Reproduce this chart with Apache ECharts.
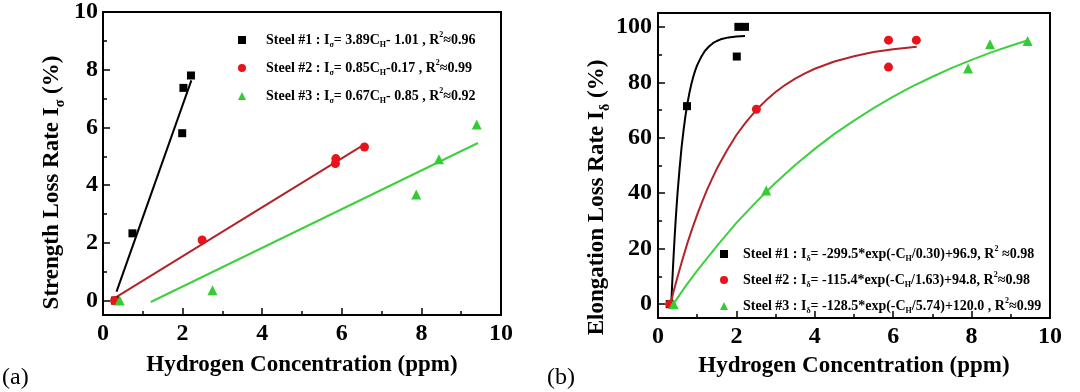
<!DOCTYPE html>
<html>
<head>
<meta charset="utf-8">
<script src="https://cdn.jsdelivr.net/npm/echarts@6/dist/echarts.min.js"></script>
<style>
html,body{margin:0;padding:0;background:#fff;}
#chart{width:1080px;height:392px;}
</style>
</head>
<body>
<div id="chart"></div>
<script>
// ---- data ----
const strengthYTicks = [0, 2, 4, 6, 8, 10];
const strengthYMinor = [1, 3, 5, 7, 9];
const elongYTicks = [0, 20, 40, 60, 80, 100];
const elongYMinor = [10, 30, 50, 70, 90];

// panel (a): strength loss rate, [H ppm, %]
const strengthS1 = [[0.3, 0], [0.74, 2.33], [1.99, 5.8], [2.02, 7.37], [2.21, 7.8]];
const strengthS2 = [[0.29, 0], [2.49, 2.1], [5.84, 4.75], [5.85, 4.92], [6.57, 5.32]];
const strengthS3 = [[0.42, 0], [2.75, 0.36], [7.87, 3.68], [8.44, 4.9], [9.39, 6.1]];
const strengthFit1 = [[0.34, 0.31], [2.22, 7.63]];
const strengthFit2 = [[0.3, 0.09], [6.6, 5.44]];
const strengthFit3 = [[1.2, -0.05], [9.42, 5.46]];

// panel (b): elongation loss rate
const elongS1 = [[0.3, 0], [0.74, 71.4], [2.01, 89.3], [2.05, 100], [2.22, 100]];
const elongS2 = [[0.3, 0], [2.51, 70.3], [5.88, 95.2], [5.88, 85.5], [6.59, 95.2]];
const elongS3 = [[0.4, 0], [2.76, 41], [7.91, 85], [8.47, 93.7], [9.43, 94.9]];
const elongFit1 = [[0.34, 0.5], [0.36, 6.7], [0.38, 12.6], [0.4, 18], [0.425, 24.3], [0.45, 30.1], [0.475, 35.4], [0.5, 40.3], [0.55, 48.8], [0.6, 56.4], [0.65, 62.5], [0.7, 67.9], [0.75, 72.3], [0.8, 76.1], [0.85, 79.3], [0.9, 82], [0.95, 84.3], [1.0, 86.2], [1.1, 89.1], [1.2, 91.4], [1.3, 92.9], [1.4, 94.1], [1.5, 94.9], [1.6, 95.5], [1.8, 96.2], [2.0, 96.5], [2.22, 96.7]];
const elongFit2 = [[0.32, 0], [0.4, 4.7], [0.5, 9.9], [0.6, 14.9], [0.75, 22], [0.875, 27.3], [1.0, 32.3], [1.125, 36.9], [1.25, 41.2], [1.375, 45.1], [1.5, 48.8], [1.75, 55.2], [2.0, 61], [2.25, 65.7], [2.5, 69.9], [2.75, 73.4], [3.0, 76.5], [3.25, 79.1], [3.5, 81.3], [3.75, 83.2], [4.0, 84.9], [4.5, 87.5], [5.0, 89.4], [5.5, 90.9], [6.0, 91.9], [6.6, 92.8]];
const elongFit3 = [[0.39, 0], [0.7, 6.4], [1, 12.1], [1.5, 20.9], [2, 29.3], [2.5, 36.8], [3, 43.8], [3.5, 50.2], [4, 56], [4.5, 61.4], [5, 66.2], [5.5, 70.7], [6, 74.8], [6.5, 78.6], [7, 82], [7.5, 85.2], [8, 88.1], [8.5, 90.8], [9, 93.2], [9.4, 95]];

const legendA = {
  'Steel #1 (a)': '{g|}{t|Steel #1 : I}{sub|σ}{t|= 3.89C}{sub|H}{t|- 1.01 , R}{sup|2}{t|≈0.96}',
  'Steel #2 (a)': '{g|}{t|Steel #2 : I}{sub|σ}{t|= 0.85C}{sub|H}{t|-0.17 , R}{sup|2}{t|≈0.99}',
  'Steel #3 (a)': '{g|}{t|Steel #3 : I}{sub|σ}{t|= 0.67C}{sub|H}{t|- 0.85 , R}{sup|2}{t|≈0.92}'
};
const legendB = {
  'Steel #1 (b)': '{g|}{t|Steel #1 : I}{sub|δ}{t|= -299.5*exp(-C}{sub|H}{t|/0.30)+96.9, R}{sup|2}{t| ≈0.98}',
  'Steel #2 (b)': '{g|}{t|Steel #2 : I}{sub|δ}{t|= -115.4*exp(-C}{sub|H}{t|/1.63)+94.8, R}{sup|2}{t|≈0.98}',
  'Steel #3 (b)': '{g|}{t|Steel #3 : I}{sub|δ}{t|= -128.5*exp(-C}{sub|H}{t|/5.74)+120.0 , R}{sup|2}{t|≈0.99}'
};

// ---- styling ----
const FONT = '"Liberation Serif", "Times New Roman", serif';
const BLACK = '#000000', RED = '#e8141c', RED_LINE = '#b3242a', GREEN = '#33cc33', GREEN_LINE = '#40cf40';

function richStyles(size, gap) {
  return {
    g: { width: gap || 0, height: 1 },
    t: { fontFamily: FONT, fontWeight: 'bold', fontSize: size, color: '#000', lineHeight: Math.round(size * 1.3) },
    sub: { fontFamily: FONT, fontWeight: 'bold', fontSize: Math.round(size * 0.6), color: '#000', verticalAlign: 'bottom', lineHeight: Math.round(size * 0.6) },
    sup: { fontFamily: FONT, fontWeight: 'bold', fontSize: Math.round(size * 0.6), color: '#000', verticalAlign: 'top', lineHeight: Math.round(size * 0.6) }
  };
}

function xAxisCfg(gridIndex) {
  return {
    type: 'value', gridIndex: gridIndex, min: 0, max: 10, interval: 2,
    name: 'Hydrogen Concentration (ppm)', nameLocation: 'middle', nameGap: gridIndex === 0 ? 39 : 37,
    nameTextStyle: { fontFamily: FONT, fontWeight: 'bold', fontSize: 23, color: '#000' },
    axisLine: { show: true, onZero: false, lineStyle: { color: '#000', width: 2 } },
    axisTick: { show: true, inside: true, length: 7, lineStyle: { color: '#000', width: 1.5 } },
    minorTick: { show: true, splitNumber: 2, length: 4, lineStyle: { color: '#000', width: 1.5 } },
    axisLabel: { fontFamily: FONT, fontWeight: 'bold', fontSize: 24, color: '#000', margin: 7 },
    splitLine: { show: false }, minorSplitLine: { show: false }
  };
}

function yMainCfg(gridIndex, min, max, ticks, name, gap, shift, margin) {
  return {
    type: 'value', gridIndex: gridIndex, min: min, max: max,
    name: name, nameLocation: 'middle', nameGap: gap, nameRotate: 90,
    nameTextStyle: { rich: richStyles(23), padding: [0, shift, 0, 0] },
    axisLine: { show: true, onZero: false, lineStyle: { color: '#000', width: 2 } },
    axisTick: { show: true, inside: true, length: 7, customValues: ticks, lineStyle: { color: '#000', width: 1.5 } },
    axisLabel: { fontFamily: FONT, fontWeight: 'bold', fontSize: 24, color: '#000', margin: margin, customValues: ticks },
    splitLine: { show: false }
  };
}

function yMinorCfg(gridIndex, min, max, ticks) {
  return {
    type: 'value', gridIndex: gridIndex, min: min, max: max, position: 'left',
    axisLine: { show: false },
    axisTick: { show: true, inside: true, length: 4, customValues: ticks, lineStyle: { color: '#000', width: 1.5 } },
    axisLabel: { show: false },
    splitLine: { show: false }
  };
}

function scatter(name, data, xi, yi, symbol, color, size) {
  return { name: name, type: 'scatter', xAxisIndex: xi, yAxisIndex: yi, data: data, symbol: symbol, symbolSize: size,
    itemStyle: { color: color, opacity: 1 }, z: 5, emphasis: { disabled: true } };
}
function fit(name, data, xi, yi, color) {
  return { name: name, type: 'line', xAxisIndex: xi, yAxisIndex: yi, data: data, showSymbol: false, symbol: 'none',
    smooth: false, lineStyle: { color: color, width: 2, join: 'round' }, z: 3, silent: true, emphasis: { disabled: true } };
}

const chart = echarts.init(document.getElementById('chart'), null, { renderer: 'canvas' });
chart.setOption({
  backgroundColor: '#ffffff',
  animation: false,
  grid: [
    { left: 103, top: 12, width: 398, height: 303, show: true, borderColor: '#000', borderWidth: 2, backgroundColor: 'transparent', containLabel: false },
    { left: 658, top: 13, width: 392, height: 305, show: true, borderColor: '#000', borderWidth: 2, backgroundColor: 'transparent', containLabel: false }
  ],
  xAxis: [xAxisCfg(0), xAxisCfg(1)],
  yAxis: [
    yMainCfg(0, -0.5, 10, strengthYTicks, '{t|Strength Loss Rate I}{sub|σ}{t| (%)}', 36, 38, 5),
    yMinorCfg(0, -0.5, 10, strengthYMinor),
    yMainCfg(1, -5, 105, elongYTicks, '{t|Elongation Loss Rate I}{sub|δ}{t| (%)}', 42, 64, 6),
    yMinorCfg(1, -5, 105, elongYMinor)
  ],
  legend: [
    {
      data: Object.keys(legendA), orient: 'vertical', left: 238, top: 31, itemWidth: 8, itemHeight: 8, itemGap: 10,
      selectedMode: false, formatter: function (n) { return legendA[n]; },
      textStyle: { rich: richStyles(14, 15) }, padding: 0
    },
    {
      data: Object.keys(legendB), orient: 'vertical', left: 720, top: 245, itemWidth: 8, itemHeight: 8, itemGap: 8,
      selectedMode: false, formatter: function (n) { return legendB[n]; },
      textStyle: { rich: richStyles(14, 10) }, padding: 0
    }
  ],
  graphic: [
    { type: 'text', left: 2, top: 366, style: { text: '(a)', font: '24px ' + FONT, fill: '#000' } },
    { type: 'text', left: 547, top: 366, style: { text: '(b)', font: '24px ' + FONT, fill: '#000' } }
  ],
  series: [
    fit('fit a1', strengthFit1, 0, 0, BLACK),
    fit('fit a2', strengthFit2, 0, 0, RED_LINE),
    fit('fit a3', strengthFit3, 0, 0, GREEN_LINE),
    scatter('Steel #1 (a)', strengthS1, 0, 0, 'rect', BLACK, 8),
    scatter('Steel #2 (a)', strengthS2, 0, 0, 'circle', RED, 9),
    scatter('Steel #3 (a)', strengthS3, 0, 0, 'triangle', GREEN, 10),
    fit('fit b1', elongFit1, 1, 2, BLACK),
    fit('fit b2', elongFit2, 1, 2, RED_LINE),
    fit('fit b3', elongFit3, 1, 2, GREEN_LINE),
    scatter('Steel #1 (b)', elongS1, 1, 2, 'rect', BLACK, 8),
    scatter('Steel #2 (b)', elongS2, 1, 2, 'circle', RED, 9),
    scatter('Steel #3 (b)', elongS3, 1, 2, 'triangle', GREEN, 10)
  ]
});
</script>
</body>
</html>
